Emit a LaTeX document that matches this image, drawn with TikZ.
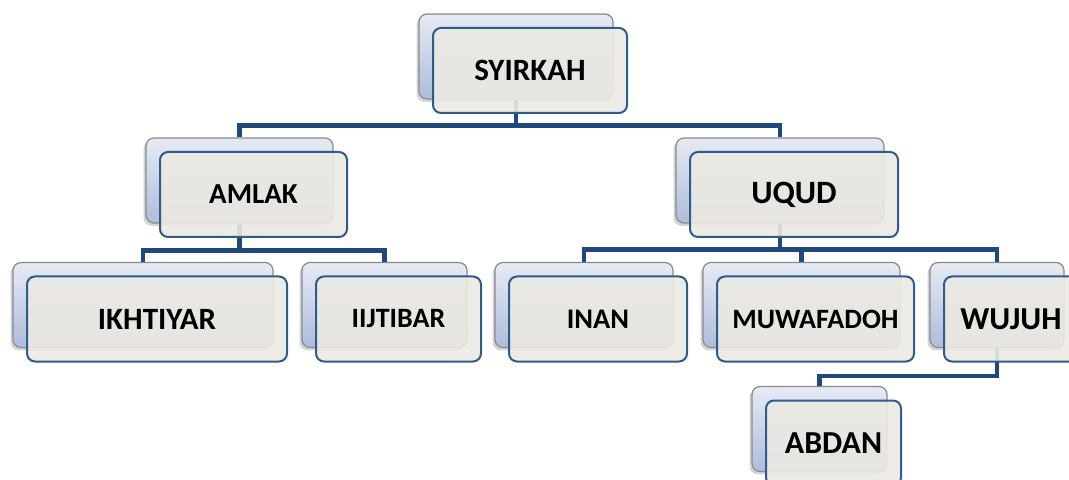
\documentclass[tikz,border=0pt]{standalone}
\usepackage{fontspec}
\setmainfont{Carlito}
\usepackage{tikz}
\usetikzlibrary{positioning,shadows}
\definecolor{linkblue}{HTML}{1F497D}
\definecolor{frontblue}{HTML}{2E5C8C}
\definecolor{frontfill}{HTML}{EBE9E2}
\definecolor{backgrey}{HTML}{8A8A8A}
\definecolor{backtop}{HTML}{E6EAF4}
\definecolor{backbottom}{HTML}{AEBDDC}
\begin{document}
\begin{tikzpicture}[x=0.5pt,y=-0.5pt,
  back node/.style={rectangle,rounded corners=4pt,draw=backgrey,line width=0.6pt,
    top color=backtop,bottom color=backbottom,minimum height=42.5pt,
    drop shadow={shadow xshift=-1.2pt,shadow yshift=-1.4pt,opacity=0.35}},
  main node/.style={rectangle,rounded corners=4pt,draw=frontblue,line width=1pt,
    fill=frontfill,fill opacity=0.91,text opacity=1,minimum height=42.5pt,
    on grid,below right=7pt and 7pt of #1,font=\bfseries\fontsize{15.5pt}{18pt}\selectfont},
  link/.style={draw=linkblue,line width=2.3pt}]
					\useasboundingbox (0,0) rectangle (1069,480);
					\clip (0,0) rectangle (1069,480);
					\node[back node,minimum width=97pt] (syirkahb) at (516,56.5) {};
					\node[back node,minimum width=93.5pt] (amlakb) at (239.5,180.5) {};
					\node[back node,minimum width=104pt] (uqudb) at (780,180.5) {};
					\node[back node,minimum width=130pt] (ikhtiyarb) at (143,305) {};
					\node[back node,minimum width=82.5pt] (iijtibarb) at (384.5,305) {};
					\node[back node,minimum width=89pt] (inanb) at (584,305) {};
					\node[back node,minimum width=98.5pt] (muwafadohb) at (801.5,305) {};
					\node[back node,minimum width=67pt] (wujuhb) at (997,305) {};
					\node[back node,minimum width=67.5pt] (abdanb) at (819.5,429) {};
				\path[link]
					(syirkahb.south) -- ++(0,26) -| (amlakb.north)
					(syirkahb.south) -- ++(0,26) -| (uqudb.north)
					(amlakb.south) -- ++(0,27) -| (ikhtiyarb.north)
					(amlakb.south) -- ++(0,27) -| (iijtibarb.north)
					(uqudb.south) -- ++(0,26) -| (inanb.north)
					(uqudb.south) -- ++(0,26) -| (muwafadohb.north)
					(uqudb.south) -- ++(0,26) -| (wujuhb.north)
					(wujuhb.south) -- ++(0,28) -| (abdanb.north);
					\node[main node=syirkahb,minimum width=97pt] (syirkah) {SYIRKAH};
					\node[main node=amlakb,minimum width=93.5pt,font=\bfseries\fontsize{14.5pt}{17pt}\selectfont] (amlak) {AMLAK};
					\node[main node=uqudb,minimum width=104pt,font=\bfseries\fontsize{16.3pt}{19pt}\selectfont] (uqud) {UQUD};
					\node[main node=ikhtiyarb,minimum width=130pt] (ikhtiyar) {IKHTIYAR};
					\node[main node=iijtibarb,minimum width=82.5pt,font=\bfseries\fontsize{14pt}{17pt}\selectfont] (iijtibar) {IIJTIBAR};
					\node[main node=inanb,minimum width=89pt,font=\bfseries\fontsize{14.2pt}{17pt}\selectfont] (inan) {INAN};
					\node[main node=muwafadohb,minimum width=98.5pt,font=\bfseries\fontsize{14pt}{17pt}\selectfont] (muwafadoh) {MUWAFADOH};
					\node[main node=wujuhb,minimum width=67pt,font=\bfseries\fontsize{16pt}{19pt}\selectfont] (wujuh) {WUJUH};
					\node[main node=abdanb,minimum width=67.5pt,font=\bfseries\fontsize{16pt}{19pt}\selectfont] (abdan) {ABDAN};
\end{tikzpicture}
\end{document}
